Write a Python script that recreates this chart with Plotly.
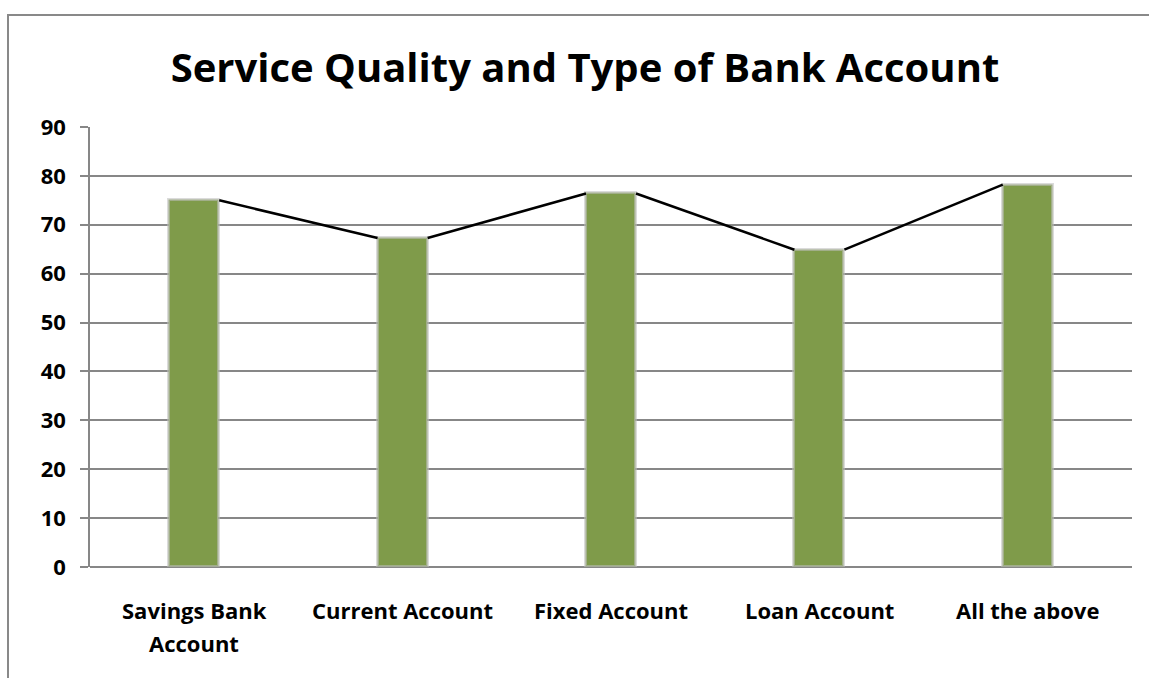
import plotly.graph_objects as go

# Category names, tick labels and mean service-quality scores
categories = ["Savings Bank Account", "Current Account", "Fixed Account", "Loan Account", "All the above"]
tick_labels = [["Savings Bank", "Account"], ["Current Account"], ["Fixed Account"], ["Loan Account"], ["All the above"]]
scores = [75.0, 67.3, 76.4, 64.9, 78.2]
y_ticks = [0, 10, 20, 30, 40, 50, 60, 70, 80, 90]

W, H = 1149, 678
L, R, T, B = 90, 17, 127, 111
BAR_W = 0.24
GRID = "#878787"
FONT = "Open Sans"

xs = list(range(len(categories)))

# Connector segments run from the top-right corner of one bar to the top-left of the next
line_x, line_y = [], []
half = BAR_W / 2
for i in range(len(scores) - 1):
    line_x += [xs[i] + half, xs[i + 1] - half, None]
    line_y += [scores[i], scores[i + 1], None]

fig = go.Figure()
fig.add_trace(go.Bar(
    x=xs, y=scores, width=BAR_W,
    marker=dict(color="#7F9B4A", line=dict(color="rgba(190,190,190,0.55)", width=3)),
    hoverinfo="skip", showlegend=False,
))
fig.add_trace(go.Scatter(
    x=line_x, y=line_y, mode="lines",
    line=dict(color="black", width=2.5),
    hoverinfo="skip", showlegend=False, cliponaxis=False,
))

pw = W - L - R
ph = H - T - B
# outer chart-area frame
fig.add_shape(
    type="rect", xref="paper", yref="paper",
    x0=(8 - L) / pw, x1=(W + 20 - L) / pw,
    y0=-(B + 20) / ph, y1=(H - B - 15) / ph,
    line=dict(color="#898989", width=2), fillcolor="rgba(0,0,0,0)", layer="below",
)

# category labels, one annotation per text line for wider line spacing
for x, lines in zip(xs, tick_labels):
    for k, txt in enumerate(lines):
        fig.add_annotation(
            x=x, xref="x", y=0, yref="paper",
            text=f"<b>{txt}</b>", showarrow=False,
            font=dict(family=FONT, size=22, color="black"),
            xanchor="center", yanchor="middle",
            yshift=-(43 + 33 * k),
        )

fig.update_layout(
    width=W, height=H,
    margin=dict(l=L, r=R, t=T, b=B),
    paper_bgcolor="white", plot_bgcolor="white",
    font=dict(family=FONT, color="black"),
    title=dict(
        text="<b>Service Quality and Type of Bank Account</b>",
        font=dict(family=FONT, size=40, color="black"),
        x=585 / W, xanchor="center", xref="container",
        y=1 - 68 / H, yanchor="middle", yref="container",
    ),
    xaxis=dict(
        range=[-0.5, 4.5], showticklabels=False,
        showgrid=False, zeroline=False, showline=False, ticks="",
    ),
    yaxis=dict(
        range=[0, 90], tickvals=y_ticks, ticktext=[f"<b>{v}</b>" for v in y_ticks],
        tickfont=dict(family=FONT, size=22, color="black"),
        showgrid=True, gridcolor=GRID, gridwidth=1.6,
        showline=True, linecolor=GRID, linewidth=1.6,
        ticks="outside", ticklen=8, tickcolor=GRID, tickwidth=1.6,
        zeroline=True, zerolinecolor=GRID, zerolinewidth=1.6,
        ticklabelstandoff=10,
    ),
    bargap=0,
)

fig.write_html("out.html")
